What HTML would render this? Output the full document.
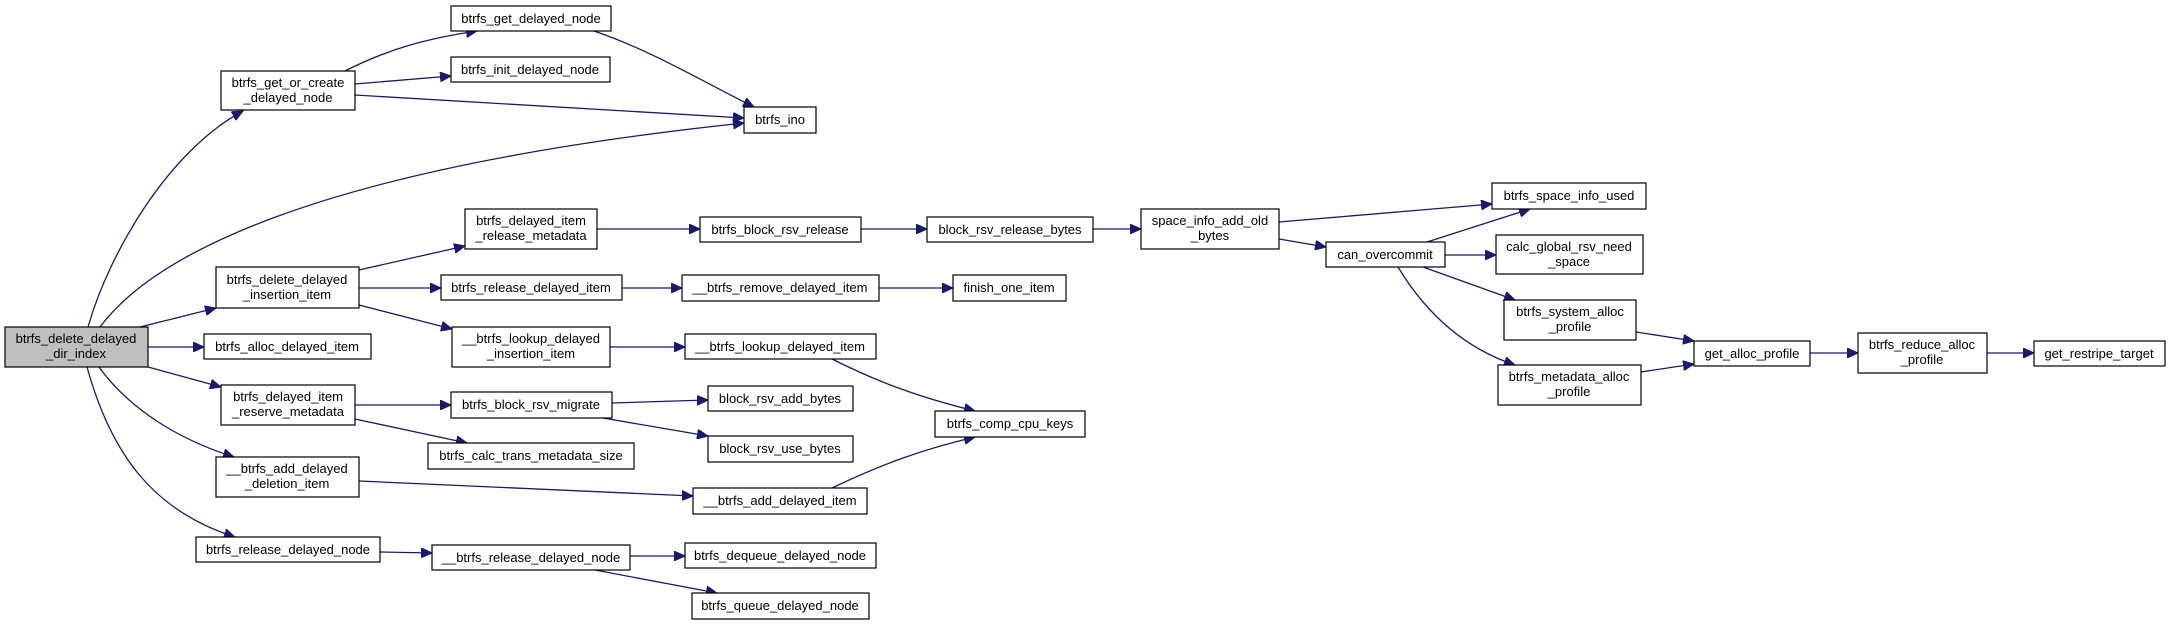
<!DOCTYPE html>
<html><head><meta charset="utf-8"><style>
html,body{margin:0;padding:0;background:#fff;}
svg{display:block;}
text{font-family:"Liberation Sans",sans-serif;font-size:13px;fill:#000;text-anchor:middle;}
.e{fill:none;stroke:#191970;stroke-width:1.3;marker-end:url(#a);}
.n{fill:#fff;stroke:#000;stroke-width:1.2;}
</style></head><body>
<svg width="2171" height="625" viewBox="0 0 2171 625" xmlns="http://www.w3.org/2000/svg">
<defs><marker id="a" markerUnits="userSpaceOnUse" markerWidth="12" markerHeight="10" refX="11" refY="5" orient="auto"><path d="M0,0 L11,5 L0,10 Z" fill="#191970" stroke="#191970"/></marker></defs>

<!-- edges -->
<path class="e" d="M88,327 C110,250 170,150 243,111"/>
<path class="e" d="M100,327 C150,260 300,170 744,123"/>
<path class="e" d="M140,327 L216,308"/>
<path class="e" d="M148,347 L204,347"/>
<path class="e" d="M148,367 L221,387"/>
<path class="e" d="M99,367 C130,410 180,440 234,457"/>
<path class="e" d="M87,367 C110,450 150,510 235,537"/>
<path class="e" d="M345,71 C390,48 430,38 477,31"/>
<path class="e" d="M355,84 L451,76"/>
<path class="e" d="M355,95 L744,118"/>
<path class="e" d="M594,31 C650,50 700,80 754,107"/>
<path class="e" d="M359,270 L465,246"/>
<path class="e" d="M359,288 L441,288"/>
<path class="e" d="M359,305 L452,329"/>
<path class="e" d="M597,229 L700,229"/>
<path class="e" d="M622,288 L682,288"/>
<path class="e" d="M610,347 L685,347"/>
<path class="e" d="M832,359 C870,378 910,395 975,411"/>
<path class="e" d="M355,405 L451,405"/>
<path class="e" d="M355,419 L467,443"/>
<path class="e" d="M612,403 L708,400"/>
<path class="e" d="M603,418 L708,436"/>
<path class="e" d="M359,481 L693,496"/>
<path class="e" d="M832,488 C880,465 920,450 975,437"/>
<path class="e" d="M380,552 L432,553"/>
<path class="e" d="M630,556 L685,556"/>
<path class="e" d="M595,570 L717,593"/>
<path class="e" d="M861,229 L927,229"/>
<path class="e" d="M1093,229 L1141,229"/>
<path class="e" d="M1279,222 L1492,204"/>
<path class="e" d="M1279,239 L1326,247"/>
<path class="e" d="M1427,242 L1530,209"/>
<path class="e" d="M1445,255 L1496,255"/>
<path class="e" d="M1423,267 L1515,300"/>
<path class="e" d="M1398,267 C1430,320 1470,350 1515,365"/>
<path class="e" d="M1636,332 L1694,341"/>
<path class="e" d="M1641,372 L1694,364"/>
<path class="e" d="M1810,353 L1858,353"/>
<path class="e" d="M1987,353 L2034,353"/>
<path class="e" d="M879,288 L953,288"/>

<!-- nodes -->
<rect x="5" y="327" width="143" height="40" fill="#bfbfbf" stroke="#000" stroke-width="1.2"/>
<text x="76" y="343">btrfs_delete_delayed</text><text x="76" y="358">_dir_index</text>

<rect class="n" x="221" y="71" width="134" height="39"/>
<text x="288" y="87">btrfs_get_or_create</text><text x="288" y="102">_delayed_node</text>

<rect class="n" x="451" y="6" width="160" height="25"/><text x="531" y="23">btrfs_get_delayed_node</text>
<rect class="n" x="451" y="57" width="159" height="25"/><text x="530" y="74">btrfs_init_delayed_node</text>
<rect class="n" x="744" y="107" width="72" height="26"/><text x="780" y="124">btrfs_ino</text>

<rect class="n" x="216" y="267" width="143" height="41"/>
<text x="287" y="284">btrfs_delete_delayed</text><text x="287" y="299">_insertion_item</text>

<rect class="n" x="465" y="209" width="132" height="40"/>
<text x="531" y="225">btrfs_delayed_item</text><text x="531" y="240">_release_metadata</text>

<rect class="n" x="441" y="275" width="181" height="25"/><text x="531" y="292">btrfs_release_delayed_item</text>
<rect class="n" x="700" y="217" width="161" height="25"/><text x="780" y="234">btrfs_block_rsv_release</text>
<rect class="n" x="682" y="275" width="197" height="26"/><text x="780" y="292">__btrfs_remove_delayed_item</text>
<rect class="n" x="927" y="217" width="166" height="25"/><text x="1010" y="234">block_rsv_release_bytes</text>
<rect class="n" x="953" y="275" width="113" height="26"/><text x="1009" y="292">finish_one_item</text>

<rect class="n" x="1141" y="209" width="138" height="40"/>
<text x="1210" y="225">space_info_add_old</text><text x="1210" y="240">_bytes</text>

<rect class="n" x="1326" y="242" width="119" height="25"/><text x="1385" y="259">can_overcommit</text>
<rect class="n" x="1492" y="183" width="154" height="26"/><text x="1569" y="200">btrfs_space_info_used</text>

<rect class="n" x="1496" y="235" width="147" height="39"/>
<text x="1569" y="251">calc_global_rsv_need</text><text x="1569" y="266">_space</text>

<rect class="n" x="1504" y="300" width="132" height="40"/>
<text x="1570" y="316">btrfs_system_alloc</text><text x="1570" y="331">_profile</text>

<rect class="n" x="1498" y="365" width="143" height="40"/>
<text x="1569" y="381">btrfs_metadata_alloc</text><text x="1569" y="396">_profile</text>

<rect class="n" x="1694" y="341" width="116" height="25"/><text x="1752" y="358">get_alloc_profile</text>

<rect class="n" x="1858" y="333" width="129" height="40"/>
<text x="1922" y="349">btrfs_reduce_alloc</text><text x="1922" y="364">_profile</text>

<rect class="n" x="2034" y="341" width="131" height="25"/><text x="2099" y="358">get_restripe_target</text>

<rect class="n" x="204" y="334" width="167" height="25"/><text x="287" y="351">btrfs_alloc_delayed_item</text>

<rect class="n" x="452" y="327" width="158" height="40"/>
<text x="531" y="343">__btrfs_lookup_delayed</text><text x="531" y="358">_insertion_item</text>

<rect class="n" x="685" y="334" width="191" height="25"/><text x="780" y="351">__btrfs_lookup_delayed_item</text>

<rect class="n" x="221" y="385" width="134" height="40"/>
<text x="288" y="401">btrfs_delayed_item</text><text x="288" y="416">_reserve_metadata</text>

<rect class="n" x="451" y="392" width="161" height="26"/><text x="531" y="409">btrfs_block_rsv_migrate</text>
<rect class="n" x="708" y="386" width="145" height="25"/><text x="780" y="403">block_rsv_add_bytes</text>
<rect class="n" x="428" y="443" width="206" height="26"/><text x="531" y="460">btrfs_calc_trans_metadata_size</text>
<rect class="n" x="708" y="436" width="145" height="26"/><text x="780" y="453">block_rsv_use_bytes</text>
<rect class="n" x="935" y="411" width="150" height="26"/><text x="1010" y="428">btrfs_comp_cpu_keys</text>

<rect class="n" x="216" y="457" width="143" height="40"/>
<text x="287" y="473">__btrfs_add_delayed</text><text x="287" y="488">_deletion_item</text>

<rect class="n" x="693" y="488" width="174" height="26"/><text x="780" y="505">__btrfs_add_delayed_item</text>
<rect class="n" x="196" y="537" width="184" height="25"/><text x="288" y="554">btrfs_release_delayed_node</text>
<rect class="n" x="432" y="545" width="198" height="25"/><text x="531" y="562">__btrfs_release_delayed_node</text>
<rect class="n" x="685" y="543" width="191" height="25"/><text x="780" y="560">btrfs_dequeue_delayed_node</text>
<rect class="n" x="692" y="593" width="177" height="26"/><text x="780" y="610">btrfs_queue_delayed_node</text>
</svg>
</body></html>
